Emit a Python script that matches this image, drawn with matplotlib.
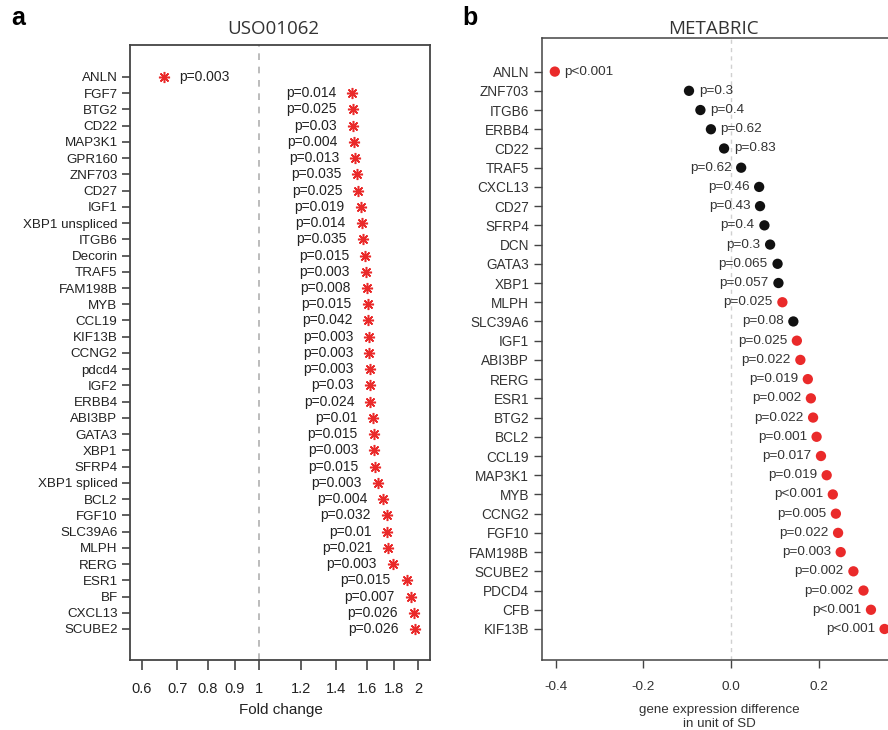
import matplotlib.pyplot as plt

# ---- panel a: USO01062 fold changes ----
genes_a = ["ANLN", "FGF7", "BTG2", "CD22", "MAP3K1", "GPR160", "ZNF703", "CD27",
           "IGF1", "XBP1 unspliced", "ITGB6", "Decorin", "TRAF5", "FAM198B", "MYB",
           "CCL19", "KIF13B", "CCNG2", "pdcd4", "IGF2", "ERBB4", "ABI3BP", "GATA3",
           "XBP1", "SFRP4", "XBP1 spliced", "BCL2", "FGF10", "SLC39A6", "MLPH",
           "RERG", "ESR1", "BF", "CXCL13", "SCUBE2"]
fold_a = [0.661, 1.502, 1.504, 1.508, 1.513, 1.520, 1.535, 1.542, 1.557, 1.564,
          1.571, 1.587, 1.591, 1.600, 1.605, 1.610, 1.618, 1.618, 1.622, 1.622,
          1.625, 1.645, 1.650, 1.652, 1.657, 1.680, 1.719, 1.745, 1.750, 1.757,
          1.790, 1.903, 1.939, 1.965, 1.973]
pval_a = ["0.003", "0.014", "0.025", "0.03", "0.004", "0.013", "0.035", "0.025",
          "0.019", "0.014", "0.035", "0.015", "0.003", "0.008", "0.015", "0.042",
          "0.003", "0.003", "0.003", "0.03", "0.024", "0.01", "0.015", "0.003",
          "0.015", "0.003", "0.004", "0.032", "0.01", "0.021", "0.003", "0.015",
          "0.007", "0.026", "0.026"]
xticks_a = [0.6, 0.7, 0.8, 0.9, 1, 1.2, 1.4, 1.6, 1.8, 2]

# ---- panel b: METABRIC SD differences ----
genes_b = ["ANLN", "ZNF703", "ITGB6", "ERBB4", "CD22", "TRAF5", "CXCL13", "CD27",
           "SFRP4", "DCN", "GATA3", "XBP1", "MLPH", "SLC39A6", "IGF1", "ABI3BP",
           "RERG", "ESR1", "BTG2", "BCL2", "CCL19", "MAP3K1", "MYB", "CCNG2",
           "FGF10", "FAM198B", "SCUBE2", "PDCD4", "CFB", "KIF13B"]
diff_b = [-0.402, -0.096, -0.070, -0.046, -0.016, 0.023, 0.064, 0.066, 0.076,
          0.089, 0.106, 0.108, 0.117, 0.142, 0.150, 0.158, 0.175, 0.182, 0.187,
          0.195, 0.205, 0.218, 0.232, 0.239, 0.244, 0.250, 0.279, 0.302, 0.319,
          0.350]
pval_b = ["<0.001", "=0.3", "=0.4", "=0.62", "=0.83", "=0.62", "=0.46", "=0.43",
          "=0.4", "=0.3", "=0.065", "=0.057", "=0.025", "=0.08", "=0.025", "=0.022",
          "=0.019", "=0.002", "=0.022", "=0.001", "=0.017", "=0.019", "<0.001",
          "=0.005", "=0.022", "=0.003", "=0.002", "=0.002", "<0.001", "<0.001"]
signif_b = [True, False, False, False, False, False, False, False, False, False,
            False, False, True, False, True, True, True, True, True, True, True,
            True, True, True, True, True, True, True, True, True]
xticks_b = [-0.4, -0.2, 0.0, 0.2]

RED = "#ea2a2a"
plt.rcParams['font.family'] = ['Liberation Sans', 'DejaVu Sans']

fig = plt.figure(figsize=(8.88, 7.3), dpi=100)

# panel a
ax1 = fig.add_axes([0.1464, 0.0959, 0.3378, 0.8425])
n_a = len(genes_a)
y_a = [n_a - i for i in range(n_a)]
ax1.set_xscale('log')
ax1.axvline(1, color="#b0b0b0", lw=1.2, ls=(0, (4, 4)), zorder=1)
ax1.plot(fold_a, y_a, ls='none', marker=(8, 2, 0), ms=8, mew=1.1, color=RED, zorder=3)
for x, y, p in zip(fold_a, y_a, pval_a):
    if x < 1:
        ax1.annotate("p=" + p, (x, y), xytext=(11, 0), textcoords='offset points',
                     ha='left', va='center', fontsize=10, color="#222")
    else:
        ax1.annotate("p=" + p, (x, y), xytext=(-11.5, 0), textcoords='offset points',
                     ha='right', va='center', fontsize=10, color="#222")
ax1.set_xlim(0.570, 2.107)
ax1.set_ylim(-0.91, n_a + 1.97)
ax1.set_yticks(y_a)
ax1.set_yticklabels(genes_a, fontsize=9.6, color="#222")
ax1.set_xticks(xticks_a)
ax1.set_xticklabels([f"{t:g}" for t in xticks_a], fontsize=10.5, color="#222")
ax1.xaxis.set_minor_locator(plt.NullLocator())
ax1.tick_params(axis='y', length=6, width=1.2, color="#444", pad=3)
ax1.tick_params(axis='x', length=7, width=1.2, color="#444", pad=9)
for s in ax1.spines.values():
    s.set_color("#444")
    s.set_linewidth(1.3)

# panel b
ax2 = fig.add_axes([0.61, 0.0959, 0.4108, 0.8521])
n_b = len(genes_b)
y_b = [n_b - i for i in range(n_b)]
ax2.axvline(0, color="#d0d0d0", lw=1.0, ls=(0, (3, 3)), zorder=1)
colors_b = [RED if s else "#111111" for s in signif_b]
ax2.scatter(diff_b, y_b, s=55, c=colors_b, zorder=3, linewidths=0)
for x, y, p in zip(diff_b, y_b, pval_b):
    if x < 0:
        ax2.annotate("p" + p, (x, y), xytext=(7, 0), textcoords='offset points',
                     ha='left', va='center', fontsize=9.7, color="#333")
    else:
        ax2.annotate("p" + p, (x, y), xytext=(-7, 0), textcoords='offset points',
                     ha='right', va='center', fontsize=9.7, color="#333")
ax2.set_xlim(-0.432, 0.40)
ax2.set_ylim(-0.613, n_b + 1.75)
ax2.set_yticks(y_b)
ax2.set_yticklabels(genes_b, fontsize=9.8, color="#333")
ax2.set_xticks(xticks_b)
ax2.set_xticklabels(["-0.4", "-0.2", "0.0", "0.2"], fontsize=9.7, color="#333")
ax2.tick_params(axis='y', length=6, width=1.0, color="#444", pad=3)
ax2.tick_params(axis='x', length=6, width=1.0, color="#444", pad=9)
for s in ax2.spines.values():
    s.set_color("#444")
    s.set_linewidth(1.1)

# titles, panel letters, axis labels
fig.text(0.3074, 0.954, "USO01062", ha='center', va='baseline', fontsize=13.5,
         family=['Open Sans', 'DejaVu Sans'], color="#333")
fig.text(0.803, 0.954, "METABRIC", ha='center', va='baseline', fontsize=13.5,
         family=['Open Sans', 'DejaVu Sans'], color="#333")
fig.text(0.013, 0.966, "a", ha='left', va='baseline', fontsize=18, weight='bold')
fig.text(0.521, 0.966, "b", ha='left', va='baseline', fontsize=18, weight='bold')
fig.text(0.316, 0.0274, "Fold change", ha='center', va='center', fontsize=11, color="#222")
fig.text(0.8104, 0.0178, "gene expression difference\nin unit of SD", ha='center',
         va='center', fontsize=9.6, color="#333", linespacing=1.15)

fig.savefig("out.png", dpi=100)
